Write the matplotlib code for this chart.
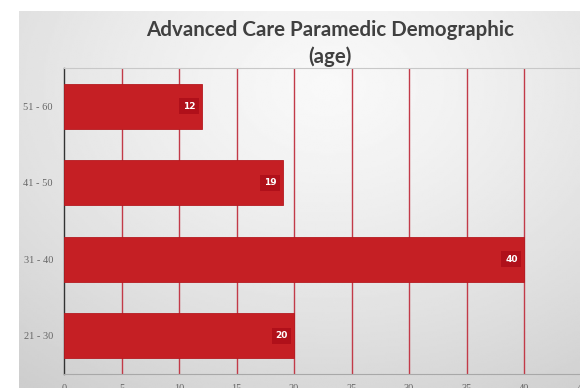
import numpy as np
import matplotlib
matplotlib.use('Agg')
import matplotlib.pyplot as plt

# age groups, bottom to top, and number of paramedics in each
ages = ['21 - 30', '31 - 40', '41 - 50', '51 - 60']
counts = [20, 40, 19, 12]
xticks = [0, 5, 10, 15, 20, 25, 30, 35, 40, 45]

bar_red = '#c51f24'
box_red = '#b0101a'
grid_red = '#c23a48'

fig = plt.figure(figsize=(5.8, 3.88), dpi=100, facecolor='white')

# grey panel with a soft radial shade behind the chart
bg = fig.add_axes([19 / 580, 0, 1 - 19 / 580, 1 - 11 / 388])
yy, xx = np.mgrid[0:1:200j, 0:1:300j]
r = np.sqrt(((xx - 0.55) / 0.9) ** 2 + ((yy - 0.2) / 1.0) ** 2)
shade = 0.975 - 0.17 * np.clip(r, 0, 1) ** 1.3
bg.imshow(shade, cmap='gray', vmin=0, vmax=1, aspect='auto',
          extent=[0, 1, 1, 0], interpolation='bilinear')
bg.set_axis_off()

ax = fig.add_axes([64 / 580, 1 - 374 / 388, 517.5 / 580, 306 / 388])
ax.patch.set_alpha(0)

ypos = np.arange(len(ages))
bars = ax.barh(ypos, counts, height=0.59, color=bar_red,
               edgecolor='#b51a20', linewidth=0.6, zorder=3)

for b, v in zip(bars, counts):
    ax.text(b.get_width() - 1.1, b.get_y() + b.get_height() / 2, str(v),
            ha='center', va='center', color='white', fontsize=6.5,
            fontweight='bold', family='DejaVu Sans', zorder=5,
            bbox=dict(boxstyle='square,pad=0.4', fc=box_red, ec='none'))

ax.set_xlim(0, 45)
ax.set_ylim(-0.5, len(ages) - 0.5)
ax.set_yticks(ypos)
ax.set_yticklabels(ages, family='Liberation Serif', fontsize=7.5, color='#666666')
ax.set_xticks(xticks)
ax.set_xticklabels([str(t) for t in xticks], family='Liberation Serif',
                   fontsize=7.5, color='#666666')
ax.tick_params(length=0, pad=8)
ax.tick_params(axis='x', pad=7)

for t in xticks[1:]:
    ax.axvline(t, color=grid_red, linewidth=1.0, zorder=1)

ax.spines['left'].set_color('#333333')
ax.spines['left'].set_linewidth(1.0)
ax.spines['bottom'].set_color('#a8a8a8')
ax.spines['top'].set_color('#c8c8c8')
ax.spines['top'].set_linewidth(0.8)
ax.spines['right'].set_visible(False)

fig.text(330 / 580, 1 - 30 / 388, 'Advanced Care Paramedic Demographic',
         ha='center', va='center', fontsize=14.8, fontweight='bold',
         family='Lato', color='#404040')
fig.text(330 / 580, 1 - 57 / 388, '(age)',
         ha='center', va='center', fontsize=14.8, fontweight='bold',
         family='Lato', color='#404040')

fig.savefig('out.png', dpi=100, facecolor='white')
